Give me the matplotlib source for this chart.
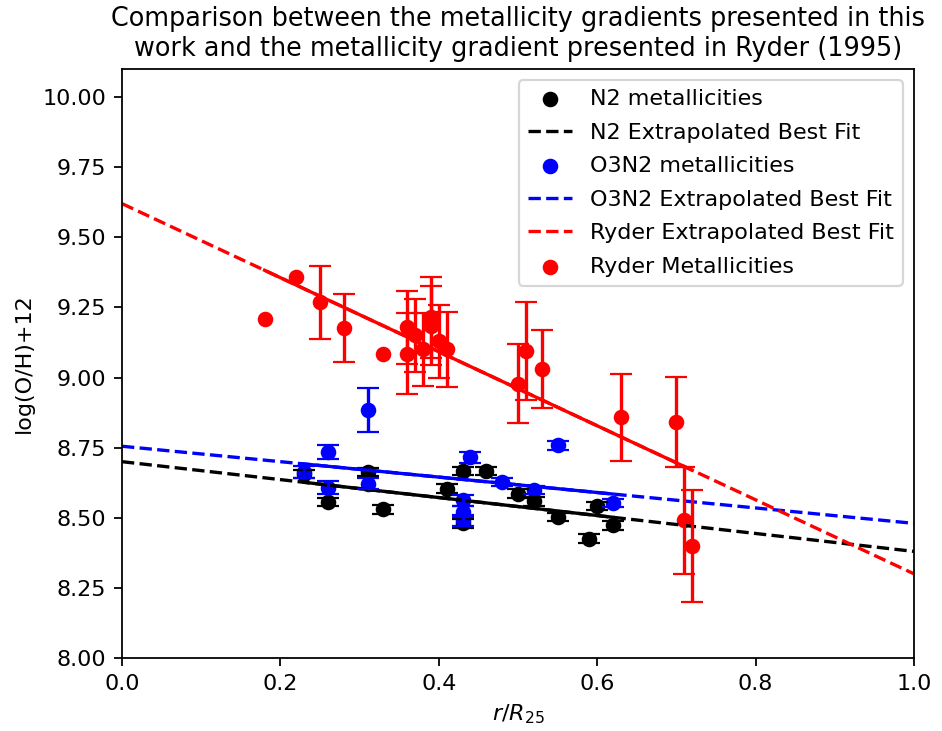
import matplotlib
matplotlib.use("Agg")
import matplotlib.pyplot as plt
import numpy as np

# N2 metallicities (this work)
n2_r = [0.23, 0.26, 0.31, 0.33, 0.41, 0.43, 0.43, 0.46, 0.50, 0.52, 0.55, 0.59, 0.60, 0.62]
n2_z = [8.655, 8.556, 8.663, 8.530, 8.604, 8.667, 8.480, 8.667, 8.586, 8.558, 8.503, 8.426, 8.541, 8.473]
n2_err = [0.015] * len(n2_r)

# O3N2 metallicities (this work)
o3n2_r = [0.23, 0.26, 0.26, 0.31, 0.31, 0.44, 0.43, 0.43, 0.43, 0.48, 0.52, 0.55, 0.62]
o3n2_z = [8.663, 8.734, 8.607, 8.622, 8.885, 8.716, 8.562, 8.521, 8.491, 8.627, 8.598, 8.758, 8.553]
o3n2_err = [0.02, 0.024, 0.024, 0.02, 0.078, 0.02, 0.02, 0.02, 0.02, 0.015, 0.015, 0.015, 0.015]

# Ryder (1995) metallicities
ryder_r = [0.18, 0.22, 0.25, 0.28, 0.33, 0.36, 0.36, 0.37, 0.38, 0.39, 0.39, 0.40, 0.41,
           0.50, 0.51, 0.53, 0.63, 0.70, 0.71, 0.72]
ryder_z = [9.21, 9.36, 9.268, 9.177, 9.083, 9.18, 9.085, 9.15, 9.10, 9.215, 9.185, 9.13, 9.10,
           8.978, 9.094, 9.031, 8.859, 8.841, 8.491, 8.40]
ryder_err = [0.0, 0.0, 0.13, 0.12, 0.0, 0.13, 0.145, 0.13, 0.13, 0.145, 0.14, 0.13, 0.135,
             0.14, 0.175, 0.14, 0.155, 0.16, 0.19, 0.20]

# best fit lines (intercept, slope)
n2_fit = (8.70, -0.32)
o3n2_fit = (8.755, -0.275)
ryder_fit = (9.62, -1.32)

fig = plt.figure(figsize=(942 / 160, 731 / 160), dpi=160)
ax = fig.add_axes([122 / 942, 1 - 658 / 731, 792 / 942, 589 / 731])

r_all = np.linspace(0, 1, 100)

# N2
h1 = ax.scatter(n2_r, n2_z, color="black", label="N2 metallicities")
ax.errorbar(n2_r, n2_z, yerr=n2_err, fmt="none", ecolor="black", capsize=5)
h2, = ax.plot(r_all, n2_fit[0] + n2_fit[1] * r_all, "--", color="black",
              label="N2 Extrapolated Best Fit")
r_n2 = np.array([min(n2_r), max(n2_r)])
ax.plot(r_n2, n2_fit[0] + n2_fit[1] * r_n2, color="black")

# O3N2
h3 = ax.scatter(o3n2_r, o3n2_z, color="blue", label="O3N2 metallicities")
ax.errorbar(o3n2_r, o3n2_z, yerr=o3n2_err, fmt="none", ecolor="blue", capsize=5)
h4, = ax.plot(r_all, o3n2_fit[0] + o3n2_fit[1] * r_all, "--", color="blue",
              label="O3N2 Extrapolated Best Fit")
r_o = np.array([min(o3n2_r), max(o3n2_r)])
ax.plot(r_o, o3n2_fit[0] + o3n2_fit[1] * r_o, color="blue")

# Ryder
h5, = ax.plot(r_all, ryder_fit[0] + ryder_fit[1] * r_all, "--", color="red",
              label="Ryder Extrapolated Best Fit")
r_ry = np.array([min(ryder_r), max(ryder_r)])
ax.plot(r_ry, ryder_fit[0] + ryder_fit[1] * r_ry, color="red")
h6 = ax.scatter(ryder_r, ryder_z, color="red", label="Ryder Metallicities")
has_err = np.array(ryder_err) > 0
ax.errorbar(np.array(ryder_r)[has_err], np.array(ryder_z)[has_err],
            yerr=np.array(ryder_err)[has_err], fmt="none", ecolor="red", capsize=5)

ax.set_xlim(0, 1)
ax.set_ylim(8.0, 10.1)
ax.set_yticks(np.arange(8.0, 10.01, 0.25))
ax.yaxis.set_major_formatter(matplotlib.ticker.FormatStrFormatter("%.2f"))
ax.set_xlabel(r"$r/R_{25}$")
ax.set_ylabel("log(O/H)+12")
ax.set_title("Comparison between the metallicity gradients presented in this\n"
             "work and the metallicity gradient presented in Ryder (1995)", fontsize=11.5)
ax.legend(handles=[h1, h2, h3, h4, h5, h6], loc="upper right", labelspacing=0.61)

fig.savefig("out.png", dpi=160)
